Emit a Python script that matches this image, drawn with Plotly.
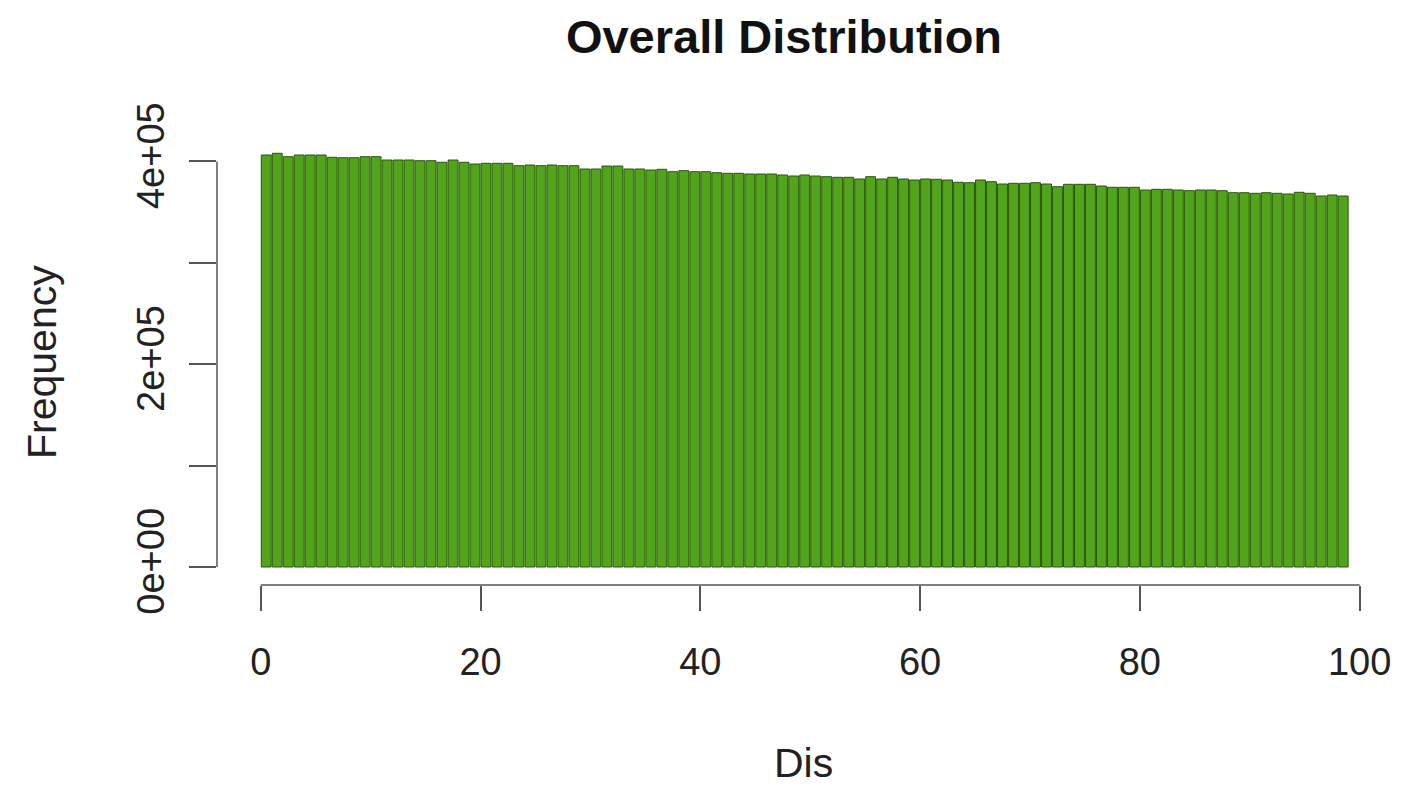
import plotly.graph_objects as go

# Histogram bins (left edges, width 1) and counts
bin_starts = list(range(99))
bin_width = 1
counts = [
    406314, 407991, 404638, 406314, 406314, 406314, 404046, 403652, 403652, 404638,
    404638, 401383, 401383, 401383, 400693, 400693, 399115, 401383, 399115, 397439,
    398129, 398129, 398129, 395762, 396452, 395762,
    396452, 395762, 395762, 392508, 392508, 395466, 395466, 392508, 392508, 391521,
    392212, 389845, 390831, 389845, 389845, 388859, 388267, 388267, 387577, 387577,
    387577, 386590, 385604, 386590, 385604, 384914, 384322,
    384322, 382646, 384914, 382646, 384322, 382646, 381659, 382646, 382350, 381659,
    379391, 378997, 381659, 379983, 377715, 378405, 378405, 378997, 377715, 375052,
    377419, 377419, 377419, 375742, 374460, 374460, 374460, 371797,
    372488, 372488, 371797, 371107, 371797, 371797, 371107, 369135, 369135, 368543,
    369135, 368543, 367853, 369529, 368543, 365880, 366866, 365880,
]

x_ticks = [0, 20, 40, 60, 80, 100]
y_ticks = [0, 100000, 200000, 300000, 400000]
y_ticktext = ["0e+00", "", "2e+05", "", "4e+05"]

title_text = "Overall Distribution"
x_title = "Dis"
y_title = "Frequency"

FONT = "Liberation Sans, Arial, Helvetica, sans-serif"
AXIS_COLOR = "#555555"

W, H = 1421, 789

fig = go.Figure()
fig.add_trace(go.Bar(
    x=[b + bin_width / 2 for b in bin_starts],
    y=counts,
    width=bin_width * 0.9,
    marker=dict(color="#52A51A", line=dict(color="#2a560c", width=1)),
    hoverinfo="x+y",
))

fig.update_layout(
    width=W, height=H,
    paper_bgcolor="white", plot_bgcolor="white",
    margin=dict(l=217, r=W - 1380, t=100, b=H - 585),
    showlegend=False,
    title=dict(text="<b>" + title_text + "</b>", x=784 / W, xref="container", xanchor="center",
               y=1 - 37 / H, yref="container", yanchor="middle",
               font=dict(family=FONT, size=47, color="#111111")),
    xaxis=dict(range=[-3.98, 101.85], tickvals=x_ticks, ticks="outside", ticklen=25,
               tickwidth=1.5, tickcolor=AXIS_COLOR, showgrid=False, zeroline=False, showline=False,
               ticklabelstandoff=18,
               tickfont=dict(family=FONT, size=38, color="#222222")),
    yaxis=dict(range=[-17750, 460555], tickvals=y_ticks, ticktext=y_ticktext, tickangle=-90,
               ticks="outside", ticklen=27, tickwidth=1.5, tickcolor=AXIS_COLOR,
               showgrid=False, zeroline=False, showline=False,
               ticklabelstandoff=10,
               tickfont=dict(family=FONT, size=38, color="#222222")),
    annotations=[
        dict(text=y_title, textangle=-90, xref="paper", yref="paper",
             x=(42 - 217) / 1163, y=(585 - 362) / 485, xanchor="center", yanchor="middle",
             showarrow=False, font=dict(family=FONT, size=41, color="#222222")),
        dict(text=x_title, xref="paper", yref="paper",
             x=(803 - 217) / 1163, y=(585 - 763) / 485, xanchor="center", yanchor="middle",
             showarrow=False, font=dict(family=FONT, size=41, color="#222222")),
    ],
    shapes=[
        dict(type="line", xref="x", yref="paper", x0=x_ticks[0], x1=x_ticks[-1], y0=0, y1=0,
             line=dict(color=AXIS_COLOR, width=1.5)),
        dict(type="line", xref="paper", yref="y", x0=0, x1=0, y0=y_ticks[0], y1=y_ticks[-1],
             line=dict(color=AXIS_COLOR, width=1.5)),
    ],
)

fig.write_html(
    "out.html",
    config={"displayModeBar": False},
    post_script="document.body.style.margin='0';document.body.style.overflow='hidden';",
)
